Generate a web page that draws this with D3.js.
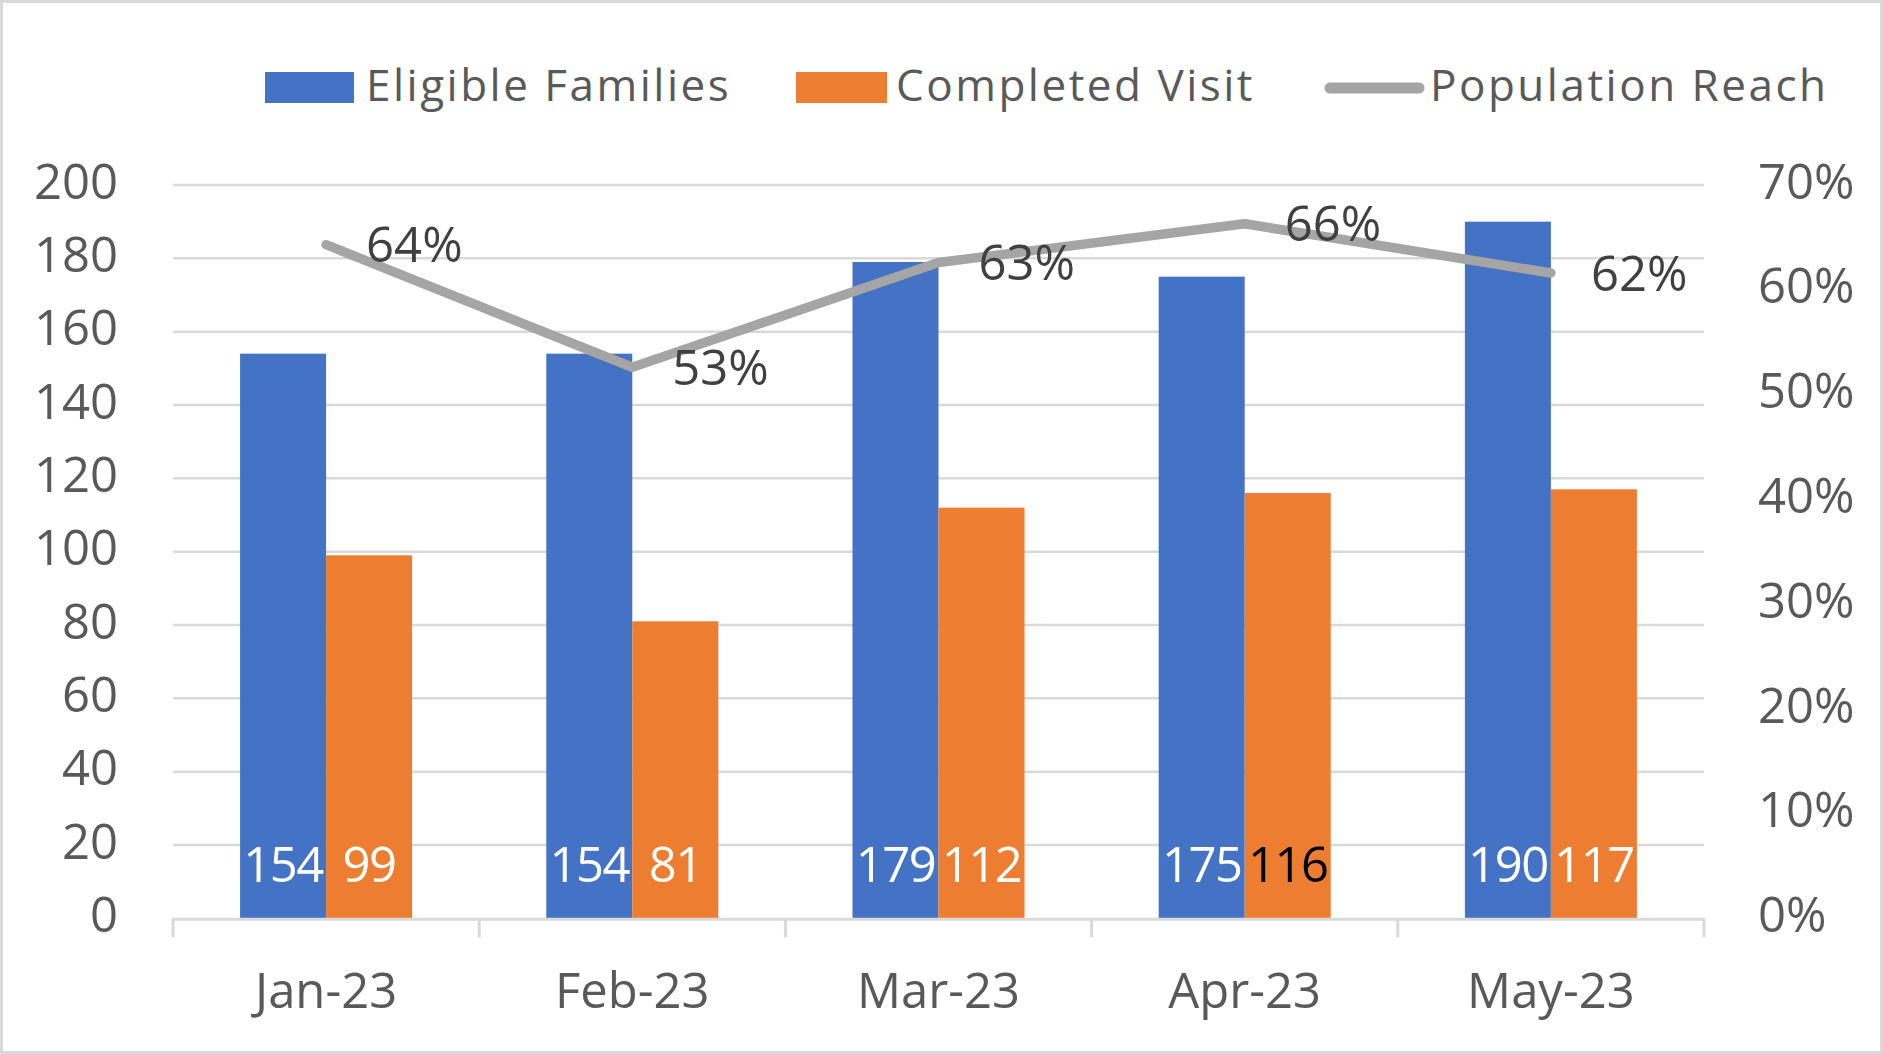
<!DOCTYPE html>
<html>
<head>
<meta charset="utf-8">
<script src="https://cdn.jsdelivr.net/npm/d3@7"></script>
<style>
  html, body { margin: 0; padding: 0; background: #fff; }
  svg { display: block; font-family: "Open Sans", sans-serif; }
</style>
</head>
<body>
<svg id="chart" width="1883" height="1054"></svg>
<script>
// ---- data ----
const months = ["Jan-23", "Feb-23", "Mar-23", "Apr-23", "May-23"];
const eligibleFamilies = [154, 154, 179, 175, 190];
const completedVisit = [99, 81, 112, 116, 117];
const populationReach = [0.643, 0.526, 0.626, 0.663, 0.616];
const reachLabels = ["64%", "53%", "63%", "66%", "62%"];
const seriesNames = ["Eligible Families", "Completed Visit", "Population Reach"];
const leftTicks = [0, 20, 40, 60, 80, 100, 120, 140, 160, 180, 200];
const rightTicks = [0, 0.1, 0.2, 0.3, 0.4, 0.5, 0.6, 0.7];

const colors = { blue: "#4472C4", orange: "#ED7D31", gray: "#A5A5A5" };

const svg = d3.select("#chart");
const W = 1883, H = 1054;

// border
svg.append("rect").attr("x", 1.5).attr("y", 1.5).attr("width", W - 3).attr("height", H - 3)
  .attr("fill", "#fff").attr("stroke", "#d9d9d9").attr("stroke-width", 3);

const plot = { left: 173, right: 1704, top: 185, bottom: 918.3 };

const x = d3.scaleBand().domain(months).range([plot.left, plot.right]).padding(0);
const x1 = d3.scaleBand().domain(["e", "c"]).range([0, x.bandwidth()]).paddingInner(0).paddingOuter(0.78);
const y = d3.scaleLinear().domain([0, 200]).range([plot.bottom, plot.top]);
const yR = d3.scaleLinear().domain([0, 0.7]).range([plot.bottom, plot.top]);

// gridlines
svg.append("g").selectAll("line").data(leftTicks.filter(d => d > 0)).join("line")
  .attr("x1", plot.left).attr("x2", plot.right)
  .attr("y1", d => y(d)).attr("y2", d => y(d))
  .attr("stroke", "#d9d9d9").attr("stroke-width", 2.5);

// left axis labels
svg.append("g").selectAll("text").data(leftTicks).join("text")
  .attr("x", 118).attr("y", d => y(d)).attr("dy", "0.28em")
  .attr("text-anchor", "end").attr("font-size", 49).attr("fill", "#595959")
  .text(d => d);

// right axis labels
const pct = d3.format(".0%");
svg.append("g").selectAll("text").data(rightTicks).join("text")
  .attr("x", 1758).attr("y", d => yR(d)).attr("dy", "0.28em")
  .attr("text-anchor", "start").attr("font-size", 49).attr("fill", "#595959")
  .text(d => pct(d));

// bars
const barData = months.map((m, i) => [
  { m, key: "e", v: eligibleFamilies[i], color: colors.blue, label: "#ffffff" },
  { m, key: "c", v: completedVisit[i], color: colors.orange, label: m === "Apr-23" ? "#000000" : "#ffffff" }
]).flat();

svg.append("g").selectAll("rect").data(barData).join("rect")
  .attr("x", d => x(d.m) + x1(d.key))
  .attr("width", x1.bandwidth())
  .attr("y", d => y(d.v))
  .attr("height", d => y(0) - y(d.v))
  .attr("fill", d => d.color);

// bottom axis
const xAxis = svg.append("g");
xAxis.append("line").attr("x1", plot.left).attr("x2", plot.right)
  .attr("y1", plot.bottom + 1).attr("y2", plot.bottom + 1)
  .attr("stroke", "#d9d9d9").attr("stroke-width", 3);
const boundaries = months.map(m => x(m)).concat([x(months[months.length - 1]) + x.bandwidth()]);
xAxis.selectAll("line.tick").data(boundaries).join("line").attr("class", "tick")
  .attr("x1", d => d).attr("x2", d => d)
  .attr("y1", plot.bottom).attr("y2", plot.bottom + 19)
  .attr("stroke", "#d9d9d9").attr("stroke-width", 3);
xAxis.selectAll("text").data(months).join("text")
  .attr("x", d => x(d) + x.bandwidth() / 2).attr("y", 1008)
  .attr("text-anchor", "middle").attr("font-size", 49).attr("fill", "#595959")
  .text(d => d);

// bar value labels (inside base)
svg.append("g").selectAll("text").data(barData).join("text")
  .attr("x", d => x(d.m) + x1(d.key) + x1.bandwidth() / 2)
  .attr("y", y(0) - 36)
  .attr("text-anchor", "middle").attr("font-size", 49).attr("font-weight", 500)
  .attr("letter-spacing", -1.5)
  .attr("fill", d => d.label)
  .text(d => d.v);

// line
const lineData = months.map((m, i) => ({ m, v: populationReach[i], label: reachLabels[i] }));
const line = d3.line().x(d => x(d.m) + x.bandwidth() / 2).y(d => yR(d.v));
svg.append("path").datum(lineData)
  .attr("d", line).attr("fill", "none")
  .attr("stroke", colors.gray).attr("stroke-width", 9.5)
  .attr("stroke-linejoin", "round").attr("stroke-linecap", "round");

// line labels (right)
svg.append("g").selectAll("text").data(lineData).join("text")
  .attr("x", d => x(d.m) + x.bandwidth() / 2 + 40)
  .attr("y", d => yR(d.v)).attr("dy", "0.36em")
  .attr("font-size", 49).attr("fill", "#404040")
  .text(d => d.label);

// legend
const legend = svg.append("g");
const legendItems = [
  { name: seriesNames[0], type: "rect", color: colors.blue, sx: 265, sw: 89, tx: 366 },
  { name: seriesNames[1], type: "rect", color: colors.orange, sx: 796, sw: 91, tx: 896 },
  { name: seriesNames[2], type: "line", color: colors.gray, sx: 1325, sw: 99, tx: 1430 }
];
legendItems.forEach(it => {
  if (it.type === "rect") {
    legend.append("rect").attr("x", it.sx).attr("y", 72).attr("width", it.sw).attr("height", 31).attr("fill", it.color);
  } else {
    legend.append("line").attr("x1", it.sx + 5).attr("x2", it.sx + it.sw - 5)
      .attr("y1", 88).attr("y2", 88)
      .attr("stroke", it.color).attr("stroke-width", 11).attr("stroke-linecap", "round");
  }
  legend.append("text").attr("x", it.tx).attr("y", 101)
    .attr("font-size", 44).attr("letter-spacing", 2.5).attr("fill", "#595959")
    .text(it.name);
});
</script>
</body>
</html>
